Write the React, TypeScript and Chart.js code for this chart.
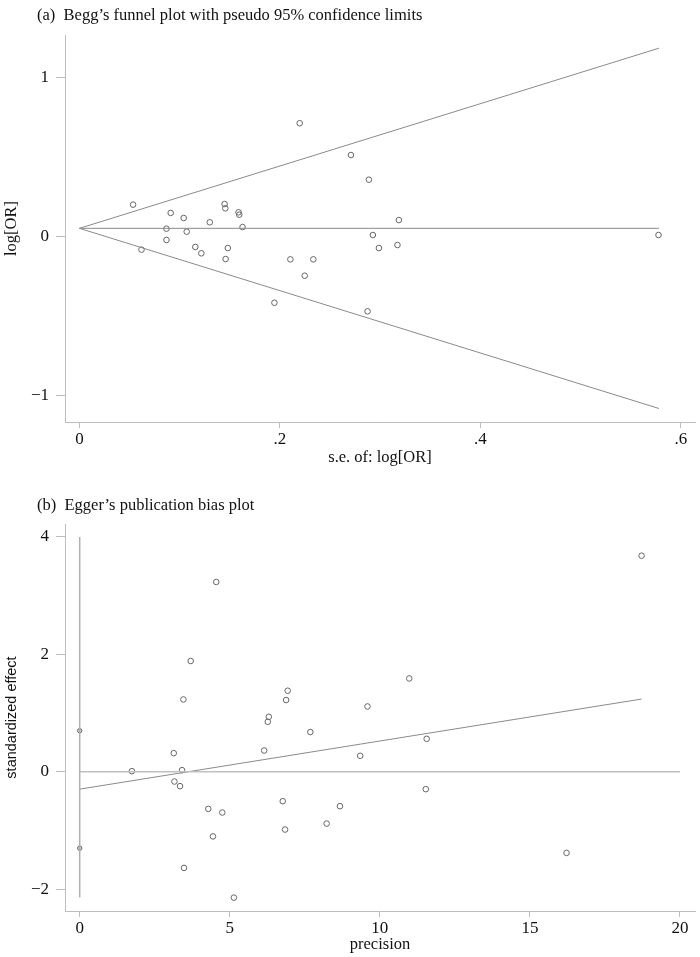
import React, { useEffect, useRef } from "react";
import { Chart, registerables } from "chart.js";

Chart.register(...registerables);

// ---------- (a) Begg's funnel plot ----------
const beggSE = [
  0.0535, 0.0619, 0.0868, 0.0868, 0.091, 0.104, 0.107, 0.1156, 0.1216, 0.130,
  0.1448, 0.1455, 0.1458, 0.148, 0.1587, 0.1594, 0.1627, 0.1945, 0.2104, 0.2197,
  0.2247, 0.2333, 0.2708, 0.2887, 0.2874, 0.3186, 0.2927, 0.2987, 0.3172, 0.5776,
];
const beggLogOR = [
  0.199, -0.084, 0.048, -0.023, 0.147, 0.115, 0.029, -0.067, -0.107, 0.088,
  0.203, 0.176, -0.143, -0.074, 0.151, 0.136, 0.058, -0.418, -0.145, 0.711,
  -0.248, -0.145, 0.511, 0.356, -0.472, 0.102, 0.008, -0.074, -0.055, 0.008,
];
const funnelSE = [0, 0.578];
const funnelPooled = [0.05, 0.05];
const funnelUpper = [0.05, 1.183];
const funnelLower = [0.05, -1.083];
const beggXTicks = [0, 0.2, 0.4, 0.6];
const beggXTickLabels = ["0", ".2", ".4", ".6"];
const beggYTicks = [-1, 0, 1];
const beggYTickLabels = ["\u22121", "0", "1"];

// ---------- (b) Egger's publication bias plot ----------
const eggerPrecision = [
  1.738, 3.133, 3.156, 3.343, 3.41, 3.455, 3.475, 3.698, 4.285, 4.44,
  4.55, 4.75, 5.137, 6.146, 6.266, 6.30, 6.765, 6.843, 6.877, 6.93,
  7.684, 8.227, 8.67, 9.346, 9.588, 10.98, 11.56, 11.53, 16.22, 18.72,
];
const eggerStdEffect = [
  0.011, 0.318, -0.165, -0.244, 0.028, 1.232, -1.636, 1.887, -0.631, -1.10,
  3.233, -0.693, -2.142, 0.363, 0.852, 0.937, -0.50, -0.983, 1.222, 1.381,
  0.677, -0.881, -0.585, 0.273, 1.113, 1.59, 0.562, -0.295, -1.381, 3.68,
];
const eggerFitX = [0, 18.72];
const eggerFitY = [-0.295, 1.239];
const eggerZeroX = [0, 20];
const eggerZeroY = [0, 0];
const eggerCIX = [0, 0];
const eggerCIY = [4, -2.14];
const eggerCIMarks = [0.7, -1.3];
const eggerXTicks = [0, 5, 10, 15, 20];
const eggerXTickLabels = ["0", "5", "10", "15", "20"];
const eggerYTicks = [-2, 0, 2, 4];
const eggerYTickLabels = ["\u22122", "0", "2", "4"];

const SERIF = "'Liberation Serif', 'Times New Roman', serif";
const SANS = "'Liberation Sans', Arial, sans-serif";
const AXIS_COLOR = "#bdbdbd";
const LINE_COLOR = "#8a8a8a";
const POINT_COLOR = "#666666";

const pts = (xs: number[], ys: number[]) => xs.map((x, i) => ({ x, y: ys[i] }));

function lineDs(xs: number[], ys: number[], color = LINE_COLOR, width = 1) {
  return {
    data: pts(xs, ys),
    showLine: true,
    pointRadius: 0,
    borderColor: color,
    borderWidth: width,
    backgroundColor: color,
    fill: false,
  };
}

function scatterDs(xs: number[], ys: number[], r = 2.8, fill = "rgba(0,0,0,0)") {
  return {
    data: pts(xs, ys),
    showLine: false,
    pointStyle: "circle",
    pointRadius: r,
    pointBorderWidth: 1,
    borderColor: POINT_COLOR,
    pointBorderColor: POINT_COLOR,
    pointBackgroundColor: fill,
    backgroundColor: fill,
  };
}

type AxisSpec = {
  min: number;
  max: number;
  ticks: number[];
  labels: string[];
  title: string;
  titleFont: any;
  titlePad: any;
};

function makeOptions(
  xs: AxisSpec,
  ys: AxisSpec,
  xHeight: number,
  padTop: number,
  padRight: number
) {
  return {
    responsive: false,
    animation: false as const,
    events: [],
    layout: { padding: { top: padTop, right: padRight, left: 0, bottom: 0 } },
    plugins: { legend: { display: false }, tooltip: { enabled: false }, title: { display: false } },
    scales: {
      x: {
        type: "linear" as const,
        min: xs.min,
        max: xs.max,
        afterFit: (s: any) => {
          s.height = xHeight;
        },
        afterBuildTicks: (s: any) => {
          s.ticks = xs.ticks.map((v) => ({ value: v }));
        },
        ticks: {
          callback: (_v: any, i: number) => xs.labels[i],
          font: { family: SERIF, size: 17 },
          color: "#111",
          padding: 1,
          maxRotation: 0,
          autoSkip: false,
        },
        grid: {
          display: true,
          drawOnChartArea: false,
          drawTicks: true,
          tickLength: 6,
          color: AXIS_COLOR,
        },
        border: { display: true, color: AXIS_COLOR, width: 1 },
        title: {
          display: true,
          text: xs.title,
          font: xs.titleFont,
          color: "#111",
          padding: xs.titlePad,
        },
      },
      y: {
        type: "linear" as const,
        min: ys.min,
        max: ys.max,
        afterFit: (s: any) => {
          s.width = 65;
        },
        afterBuildTicks: (s: any) => {
          s.ticks = ys.ticks.map((v) => ({ value: v }));
        },
        ticks: {
          callback: (_v: any, i: number) => ys.labels[i],
          font: { family: SERIF, size: 17 },
          color: "#111",
          padding: 7,
          autoSkip: false,
        },
        grid: {
          display: true,
          drawOnChartArea: false,
          drawTicks: true,
          tickLength: 9,
          color: AXIS_COLOR,
        },
        border: { display: true, color: AXIS_COLOR, width: 1 },
        title: {
          display: true,
          text: ys.title,
          font: ys.titleFont,
          color: "#111",
          padding: ys.titlePad,
        },
      },
    },
  };
}

export default function App() {
  const topRef = useRef<HTMLCanvasElement | null>(null);
  const botRef = useRef<HTMLCanvasElement | null>(null);

  useEffect(() => {
    const charts: Chart[] = [];
    if (topRef.current) {
      charts.push(
        new Chart(topRef.current, {
          type: "scatter",
          data: {
            datasets: [
              lineDs(funnelSE, funnelPooled),
              lineDs(funnelSE, funnelUpper),
              lineDs(funnelSE, funnelLower),
              scatterDs(beggSE, beggLogOR),
            ] as any,
          },
          options: makeOptions(
            {
              min: -0.0144,
              max: 0.614,
              ticks: beggXTicks,
              labels: beggXTickLabels,
              title: "s.e. of: log[OR]",
              titleFont: { family: SERIF, size: 16.5 },
              titlePad: { top: 0, bottom: 12 },
            },
            {
              min: -1.168,
              max: 1.266,
              ticks: beggYTicks,
              labels: beggYTickLabels,
              title: "log[OR]",
              titleFont: { family: SERIF, size: 16.5 },
              titlePad: { top: 2, bottom: 0 },
            },
            58,
            35,
            3
          ) as any,
        })
      );
    }
    if (botRef.current) {
      charts.push(
        new Chart(botRef.current, {
          type: "scatter",
          data: {
            datasets: [
              lineDs(eggerCIX, eggerCIY, "#b0b0b0", 1.5),
              lineDs(eggerZeroX, eggerZeroY, "#c0c0c0", 1.5),
              lineDs(eggerFitX, eggerFitY),
              scatterDs(eggerCIX, eggerCIMarks, 2.2, "#d8d8d8"),
              scatterDs(eggerPrecision, eggerStdEffect),
            ] as any,
          },
          options: makeOptions(
            {
              min: -0.49,
              max: 20.5,
              ticks: eggerXTicks,
              labels: eggerXTickLabels,
              title: "precision",
              titleFont: { family: SERIF, size: 16.5 },
              titlePad: { top: 0, bottom: 2 },
            },
            {
              min: -2.37,
              max: 4.22,
              ticks: eggerYTicks,
              labels: eggerYTickLabels,
              title: "standardized effect",
              titleFont: { family: SANS, size: 14.5 },
              titlePad: { top: 3, bottom: 0 },
            },
            46,
            44,
            3
          ) as any,
        })
      );
    }
    return () => charts.forEach((c) => c.destroy());
  }, []);

  const titleStyle: React.CSSProperties = {
    position: "absolute",
    left: 37,
    fontFamily: SERIF,
    fontSize: 16.5,
    lineHeight: "16.5px",
    color: "#111",
    whiteSpace: "pre",
    margin: 0,
  };

  return (
    <div style={{ position: "absolute", left: 0, top: 0, width: 700, height: 957, background: "#fff" }}>
      <canvas ref={topRef} width={700} height={480} style={{ position: "absolute", left: 0, top: 0 }} />
      <canvas ref={botRef} width={700} height={477} style={{ position: "absolute", left: 0, top: 480 }} />
      <div style={{ ...titleStyle, top: 7 }}>{"(a)  Begg\u2019s funnel plot with pseudo 95% confidence limits"}</div>
      <div style={{ ...titleStyle, top: 497 }}>{"(b)  Egger\u2019s publication bias plot"}</div>
    </div>
  );
}
